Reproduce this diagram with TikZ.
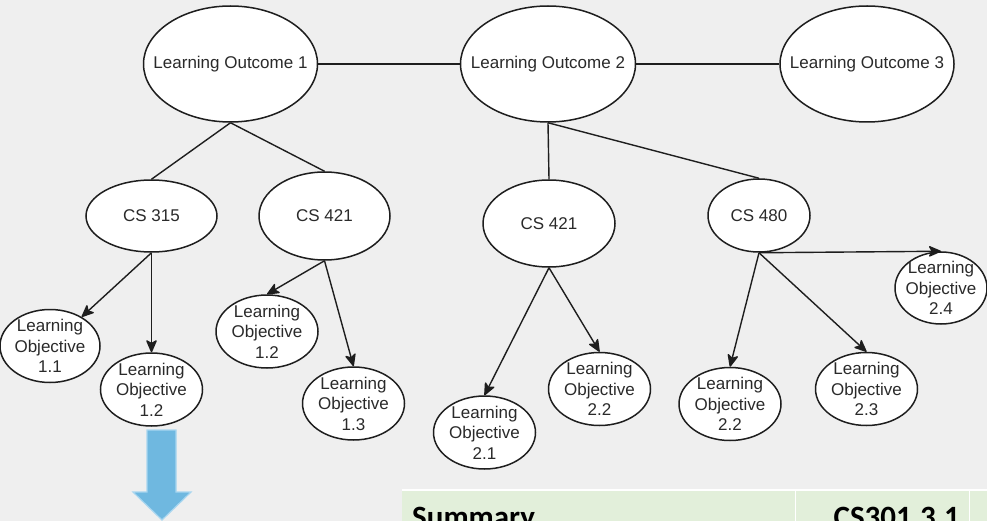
\documentclass[tikz,border=0pt]{standalone}
\usepackage{fontspec}
\setmainfont{Liberation Sans}
\newfontfamily\tablefont{Carlito}
\usetikzlibrary{shapes.geometric,arrows.meta}
\definecolor{bgc}{HTML}{EFEFEF}
\definecolor{linec}{HTML}{1E1E1E}
\definecolor{txtc}{HTML}{2A2A2A}
\definecolor{bluef}{HTML}{6FB8E0}
\definecolor{blued}{HTML}{A8D6F0}
\definecolor{greenf}{HTML}{E2EFDA}
\tikzset{
  ell/.style={ellipse, draw=linec, fill=white, line width=1.5pt, inner sep=0pt},
  txt/.style={font=\fontsize{17}{20.5}\selectfont, text=txtc, align=center, inner sep=0pt},
  conn/.style={draw=linec, line width=1.4pt},
  arr/.style={conn, -{Stealth[length=14pt 0,width=12pt 0,inset=3.5pt 0,round]}},
  lobj/.style={ell, minimum width=102pt, minimum height=73pt},
}
\begin{document}
\begin{tikzpicture}[x=1pt,y=-1pt]
\useasboundingbox (0,0) rectangle (987,521);
\clip (0,0) rectangle (987,521);
\fill[bgc] (0,0) rectangle (987,521);

% outcomes
\node[ell, minimum width=174pt, minimum height=116pt, label={[txt]center:Learning Outcome 1}] (lo1) at (230.5,64) {};
\node[ell, minimum width=175pt, minimum height=116pt, label={[txt]center:Learning Outcome 2}] (lo2) at (548,64) {};
\node[ell, minimum width=174pt, minimum height=116pt, label={[txt]center:Learning Outcome 3}] (lo3) at (867,64) {};

% courses
\node[ell, minimum width=131pt, minimum height=72pt, label={[txt]center:CS 315}] (cs315) at (151.5,216) {};
\node[ell, minimum width=131pt, minimum height=88pt, label={[txt]center:CS 421}] (cs421a) at (324.5,216) {};
\node[ell, minimum width=132pt, minimum height=87pt, label={[txt]center:CS 421}] (cs421b) at (549,223.5) {};
\node[ell, minimum width=102pt, minimum height=73pt, label={[txt]center:CS 480}] (cs480) at (759,215.5) {};

% objectives
\node[lobj, minimum width=100pt, label={[txt]center:{Learning\\Objective\\1.1}}] (lo11) at (50,346) {};
\node[lobj, label={[txt]center:{Learning\\Objective\\1.2}}] (lo12a) at (151.5,389.5) {};
\node[lobj, label={[txt]center:{Learning\\Objective\\1.2}}] (lo12b) at (267,331.5) {};
\node[lobj, label={[txt]center:{Learning\\Objective\\1.3}}] (lo13) at (353.5,403.5) {};
\node[lobj, label={[txt]center:{Learning\\Objective\\2.1}}] (lo21) at (484.5,432.5) {};
\node[lobj, label={[txt]center:{Learning\\Objective\\2.2}}] (lo22a) at (599.5,389) {};
\node[lobj, label={[txt]center:{Learning\\Objective\\2.2}}] (lo22b) at (730,404) {};
\node[lobj, label={[txt]center:{Learning\\Objective\\2.3}}] (lo23) at (866.5,389) {};
\node[lobj, minimum width=92pt, minimum height=72pt, label={[txt]center:{Learning\\Objective\\2.4}}] (lo24) at (941,288) {};

% plain connectors
\draw[conn] (lo1.east) -- (lo2.west);
\draw[conn] (lo2.east) -- (lo3.west);
\draw[conn] (lo1.south) -- (cs315.north);
\draw[conn] (lo1.south) -- (cs421a.north);
\draw[conn] (lo2.south) -- (cs421b.north);
\draw[conn] (lo2.south) -- (cs480.north);

% arrows
\draw[arr] (cs315.south) -- (lo11);
\draw[arr] (cs315.south) -- (lo12a.north);
\draw[arr] (cs421a.south) -- (lo12b.north);
\draw[arr] (cs421a.south) -- (lo13.north);
\draw[arr] (cs421b.south) -- (lo21.north);
\draw[arr] (cs421b.south) -- (lo22a.north);
\draw[arr] (cs480.south) -- (lo22b.north);
\draw[arr] (cs480.south) -- (lo23.north);
\draw[arr] (cs480.south) -- (lo24.north);

% big blue arrow
\filldraw[fill=bluef, draw=blued, line width=1.2pt, line join=miter]
  (147,430) -- (176,430) -- (176,492) -- (191,492) -- (162,520) -- (133,492) -- (147,492) -- cycle;

% table strip
\fill[greenf] (402,491) rectangle (987,521);
\draw[white, line width=2pt] (402,490) -- (987,490);
\draw[white, line width=0.8pt] (795,490) -- (795,521);
\draw[white, line width=0.8pt] (969,490) -- (969,521);
\node[font=\tablefont\bfseries\fontsize{31}{36}\selectfont, text=black, anchor=base west, inner sep=0pt] (summ) at (412,527) {Summary};
\node[font=\tablefont\bfseries\fontsize{31}{36}\selectfont, text=black, anchor=base east, inner sep=0pt] (code) at (960,527) {CS301.3.1};
\end{tikzpicture}
\end{document}
